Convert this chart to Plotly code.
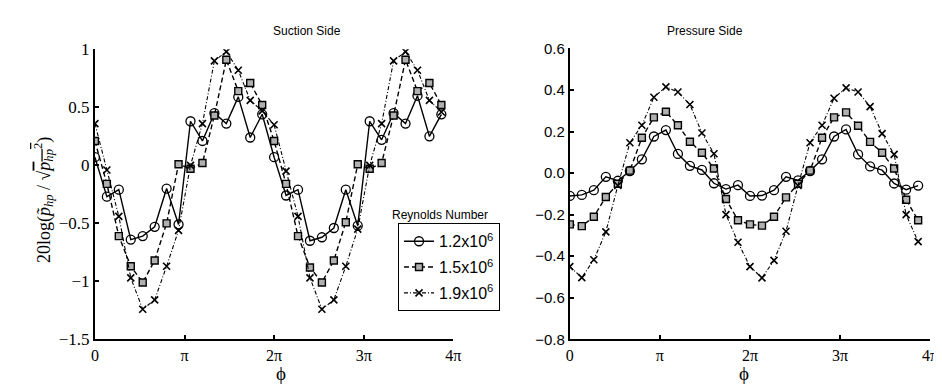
import plotly.graph_objects as go

# phi in units of pi (30 samples over 0..4pi)
phi_pi = [0, 0.1333, 0.2667, 0.4, 0.5333, 0.6667, 0.8, 0.9333, 1.0667, 1.2,
          1.3333, 1.4667, 1.6, 1.7333, 1.8667, 2.0, 2.1333, 2.2667, 2.4, 2.5333,
          2.6667, 2.8, 2.9333, 3.0667, 3.2, 3.3333, 3.4667, 3.6, 3.7333, 3.8667]

series_names = ["1.2x10<sup>6</sup>", "1.5x10<sup>6</sup>", "1.9x10<sup>6</sup>"]

# Suction side
suction_12 = [0.07, -0.27, -0.21, -0.64, -0.61, -0.53, -0.20, -0.51, 0.38, 0.21,
              0.45, 0.36, 0.59, 0.24, 0.44, 0.07, -0.26, -0.21, -0.65, -0.62,
              -0.54, -0.21, -0.52, 0.38, 0.22, 0.45, 0.36, 0.60, 0.25, 0.44]
suction_15 = [0.21, -0.16, -0.61, -0.87, -1.01, -0.82, -0.50, 0.01, -0.03, 0.02,
              0.43, 0.91, 0.64, 0.71, 0.52, 0.21, -0.16, -0.61, -0.88, -1.01,
              -0.82, -0.49, 0.01, -0.03, 0.02, 0.43, 0.91, 0.64, 0.71, 0.52]
suction_19 = [0.36, -0.04, -0.44, -0.97, -1.24, -1.16, -0.87, -0.56, 0.00, 0.36,
              0.90, 0.98, 0.82, 0.56, 0.47, 0.35, -0.05, -0.44, -0.97, -1.24,
              -1.16, -0.87, -0.55, 0.00, 0.36, 0.90, 0.98, 0.82, 0.56, 0.46]

# Pressure side
pressure_12 = [-0.110, -0.105, -0.082, -0.018, -0.037, 0.010, 0.066, 0.176, 0.207, 0.092,
               0.035, 0.015, -0.049, -0.077, -0.058, -0.110, -0.108, -0.082, -0.018, -0.035,
               0.010, 0.066, 0.176, 0.210, 0.090, 0.032, 0.014, -0.050, -0.080, -0.060]
pressure_15 = [-0.247, -0.255, -0.210, -0.115, -0.052, 0.012, 0.170, 0.268, 0.295, 0.230,
               0.151, 0.098, 0.022, -0.125, -0.227, -0.247, -0.253, -0.210, -0.117, -0.052,
               0.012, 0.170, 0.268, 0.292, 0.228, 0.150, 0.098, 0.022, -0.128, -0.227]
pressure_19 = [-0.450, -0.503, -0.417, -0.283, -0.060, 0.146, 0.230, 0.365, 0.415, 0.390,
               0.330, 0.193, 0.093, -0.200, -0.333, -0.450, -0.504, -0.420, -0.280, -0.060,
               0.146, 0.230, 0.360, 0.410, 0.390, 0.320, 0.190, 0.090, -0.200, -0.330]

tick_vals = [0, 1, 2, 3, 4]
tick_text = ["0", "\u03c0", "2\u03c0", "3\u03c0", "4\u03c0"]

styles = [
    dict(line=dict(color="black", width=1.4, dash="solid"),
         marker=dict(symbol="circle-open", size=9, color="black", line=dict(width=1.3))),
    dict(line=dict(color="black", width=1.4, dash="5px,3px"),
         marker=dict(symbol="square", size=7, color="#b0b0b0", line=dict(width=1.4, color="black"))),
    dict(line=dict(color="black", width=1.1, dash="4px,2px,1px,2px"),
         marker=dict(symbol="x-thin-open", size=7, color="black", line=dict(width=1.6, color="black"))),
]

fig = go.Figure()
for i, (ys, name) in enumerate(zip([suction_12, suction_15, suction_19], series_names)):
    fig.add_trace(go.Scatter(x=phi_pi, y=ys, mode="lines+markers", name=name,
                             legendgroup=f"g{i}", showlegend=True,
                             xaxis="x", yaxis="y", **styles[i]))
for i, (ys, name) in enumerate(zip([pressure_12, pressure_15, pressure_19], series_names)):
    fig.add_trace(go.Scatter(x=phi_pi, y=ys, mode="lines+markers", name=name,
                             legendgroup=f"g{i}", showlegend=False,
                             xaxis="x2", yaxis="y2", **styles[i]))

serif = "Liberation Serif"
sans = "Liberation Sans"

xcommon = dict(range=[0, 4], tickvals=tick_vals, ticktext=tick_text,
               showline=True, linecolor="black", linewidth=2, mirror=False,
               ticks="inside", ticklen=4, tickwidth=1.5, tickcolor="black",
               showgrid=False, zeroline=False,
               tickfont=dict(family=serif, size=16, color="black"))
ycommon = dict(showline=True, linecolor="black", linewidth=2, mirror=False,
               ticks="inside", ticklen=4, tickwidth=1.5, tickcolor="black",
               showgrid=False, zeroline=False)

fig.update_layout(
    width=942, height=387,
    margin=dict(l=0, r=0, t=0, b=0),
    paper_bgcolor="white", plot_bgcolor="white",
    xaxis=dict(domain=[84 / 942, 447 / 942], anchor="y", **xcommon),
    yaxis=dict(domain=[1 - 339 / 387, 1 - 34 / 387], anchor="x", range=[-1.5, 1],
               tickvals=[-1.5, -1, -0.5, 0, 0.5, 1],
               tickfont=dict(family=serif, size=17, color="black"), **ycommon),
    xaxis2=dict(domain=[565 / 942, 930 / 942], anchor="y2", **xcommon),
    yaxis2=dict(domain=[1 - 339 / 387, 1 - 33 / 387], anchor="x2", range=[-0.8, 0.6],
                tickvals=[-0.8, -0.6, -0.4, -0.2, 0, 0.2, 0.4, 0.6],
                tickformat=".1f",
                tickfont=dict(family=sans, size=15, color="black"), **ycommon),
    legend=dict(x=391 / 942, y=1 - 217 / 387, xanchor="left", yanchor="top",
                bgcolor="white", bordercolor="black", borderwidth=1,
                font=dict(family=sans, size=16, color="black"),
                itemwidth=30, tracegroupgap=2, traceorder="grouped"),
    showlegend=True,
    annotations=[
        dict(text="Suction Side", x=262 / 942, y=1 - 15 / 387, xref="paper", yref="paper",
             yanchor="middle", showarrow=False, font=dict(family=sans, size=12, color="black")),
        dict(text="Pressure Side", x=742 / 942, y=1 - 15 / 387, xref="paper", yref="paper",
             yanchor="middle", showarrow=False, font=dict(family=sans, size=12, color="black")),
        dict(text="Reynolds Number", x=434 / 942, y=1 - 208 / 387, xref="paper", yref="paper",
             yanchor="middle", showarrow=False, font=dict(family=sans, size=12, color="black")),
        dict(text="\u03d5", x=265 / 942, y=1 - 375 / 387, xref="paper", yref="paper",
             yanchor="middle", showarrow=False, font=dict(family=serif, size=19, color="black")),
        dict(text="\u03d5", x=749 / 942, y=1 - 375 / 387, xref="paper", yref="paper",
             yanchor="middle", showarrow=False, font=dict(family=serif, size=19, color="black")),
        dict(text="20log(<i>p\u0303</i><sub><i>hp</i></sub> / \u221a<span style='text-decoration:overline'><i>p</i><sub><i>hp</i></sub><sup>2</sup></span>)",
             x=32 / 942, y=1 - 193 / 387, xref="paper", yref="paper", textangle=-90,
             xanchor="center", yanchor="middle",
             showarrow=False, font=dict(family=serif, size=18, color="#000000")),
    ],
)

fig.write_html("out.html")
